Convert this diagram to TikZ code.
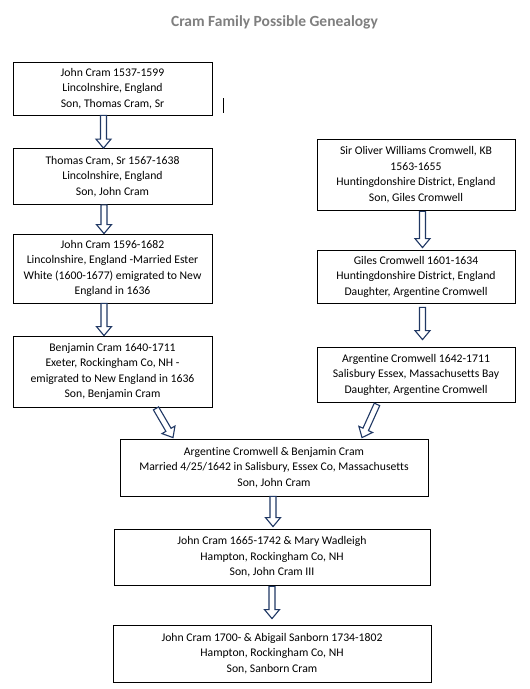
\documentclass[tikz,border=0pt]{standalone}
\usepackage{fontspec}
\setmainfont{Carlito}[Ligatures={NoCommon}]
\usetikzlibrary{calc}
\definecolor{arrownavy}{HTML}{203864}
\definecolor{titlegray}{HTML}{7F7F7F}
\newcommand\bodyfont{\fontsize{11.7}{15.5}\selectfont}
\newcommand\blockarrow[2]{%
  \coordinate (baS) at (#1);
  \coordinate (baE) at (#2);
  \coordinate (baH) at ($(baE)!9pt!(baS)$);
  \draw[blockarr] ($(baS)!3pt!90:(baE)$) -- ($(baH)!3pt!90:(baE)$) -- ($(baH)!7.5pt!90:(baE)$) -- (baE)
     -- ($(baH)!7.5pt!-90:(baE)$) -- ($(baH)!3pt!-90:(baE)$) -- ($(baS)!3pt!-90:(baE)$) -- cycle;
}
\tikzset{
  box/.style={draw=black, line width=0.8pt, fill=white, align=center, inner sep=0pt, font=\bodyfont},
  blockarr/.style={draw=arrownavy, fill=white, line width=1.1pt, line join=miter},
  titletext/.style={font=\fontsize{15.5}{18}\selectfont\bfseries, text=titlegray, anchor=base}
}
\begin{document}
\begin{tikzpicture}[x=1pt,y=-1pt]
\useasboundingbox (0,0) rectangle (530,689);
\fill[white] (0,0) rectangle (530,689);
\node[titletext] (title) at (274.5,26) {Cram Family Possible Genealogy};

\node[box, minimum width=199pt, minimum height=53pt] (b1) at (112.5,88.5)
  {John Cram 1537-1599\\Lincolnshire, England\\Son, Thomas Cram, Sr};
\node[box, minimum width=199pt, minimum height=56pt] (b2) at (112.5,176.5)
  {Thomas Cram, Sr 1567-1638\\Lincolnshire, England\\Son, John Cram};
\node[box, minimum width=199pt, minimum height=69pt] (b3) at (112.5,268.5)
  {John Cram 1596-1682\\Lincolnshire, England -Married Ester\\White (1600-1677) emigrated to New\\England in 1636};
\node[box, minimum width=199pt, minimum height=71pt] (b4) at (112.5,371.5)
  {Benjamin Cram 1640-1711\\Exeter, Rockingham Co, NH -\\emigrated to New England in 1636\\Son, Benjamin Cram};

\node[box, minimum width=198pt, minimum height=71pt] (r1) at (416,174.5)
  {Sir Oliver Williams Cromwell, KB\\1563-1655\\Huntingdonshire District, England\\Son, Giles Cromwell};
\node[box, minimum width=198pt, minimum height=53pt] (r2) at (416,276.5)
  {Giles Cromwell 1601-1634\\Huntingdonshire District, England\\Daughter, Argentine Cromwell};
\node[box, minimum width=198pt, minimum height=55pt] (r3) at (416,374.5)
  {Argentine Cromwell 1642-1711\\Salisbury Essex, Massachusetts Bay\\Daughter, Argentine Cromwell};

\node[box, minimum width=308pt, minimum height=57pt] (m1) at (274,467.5)
  {Argentine Cromwell \& Benjamin Cram\\Married 4/25/1642 in Salisbury, Essex Co, Massachusetts\\Son, John Cram};
\node[box, minimum width=316pt, minimum height=56pt] (m2) at (272,557)
  {John Cram 1665-1742 \& Mary Wadleigh\\Hampton, Rockingham Co, NH\\Son, John Cram III};
\node[box, minimum width=318pt, minimum height=57pt] (m3) at (272,653.5)
  {John Cram 1700- \& Abigail Sanborn 1734-1802\\Hampton, Rockingham Co, NH\\Son, Sanborn Cram};

% connector end points
\coordinate (a1s) at ($(b1.south)+(-9,0)$);
\coordinate (a1e) at ($(b2.north)+(-9,0)$);
\coordinate (a2s) at ($(b2.south)+(-8.5,0)$);
\coordinate (a2e) at ($(b3.north)+(-8.5,0)$);
\coordinate (a3s) at ($(b3.south)+(-8.5,0)$);
\coordinate (a3e) at ($(b4.north)+(-8.5,0)$);
\coordinate (ra1s) at ($(r1.south)+(6.5,1)$);
\coordinate (ra1e) at ($(r2.north)+(6.5,-2)$);
\coordinate (ra2s) at ($(r2.south)+(6.5,4)$);
\coordinate (ra2e) at ($(r3.north)+(6.5,-7)$);
\coordinate (dls) at ($(b4.south)+(43.5,1)$);
\coordinate (dle) at ($(m1.north)+(-101,-1)$);
\coordinate (drs) at ($(r3.south)+(-39,2)$);
\coordinate (dre) at ($(m1.north)+(88,-1)$);
\coordinate (ma1s) at ($(m1.south)+(-1,0)$);
\coordinate (ma1e) at ($(m2.north)+(1,-2)$);
\coordinate (ma2s) at ($(m2.south)+(0,1)$);
\coordinate (ma2e) at ($(m3.north)+(0,-6)$);

\blockarrow{a1s}{a1e}
\blockarrow{a2s}{a2e}
\blockarrow{a3s}{a3e}
\blockarrow{ra1s}{ra1e}
\blockarrow{ra2s}{ra2e}
\blockarrow{dls}{dle}
\blockarrow{drs}{dre}
\blockarrow{ma1s}{ma1e}
\blockarrow{ma2s}{ma2e}

% stray cursor mark
\draw[line width=0.9pt] (223,98) -- (223,113);
\end{tikzpicture}
\end{document}
